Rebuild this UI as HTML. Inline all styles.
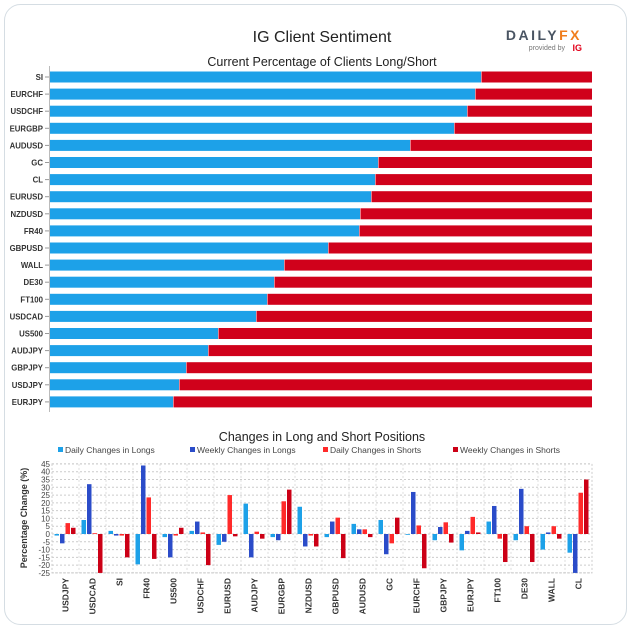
<!DOCTYPE html>
<html><head><meta charset="utf-8"><style>
html,body{margin:0;padding:0;background:#fff;}
svg{display:block;font-family:"Liberation Sans",sans-serif;}
</style></head><body>
<svg id="s" width="632" height="631" xmlns="http://www.w3.org/2000/svg">
<rect x="4.5" y="4.5" width="622" height="620" rx="16" fill="#fff" stroke="#d5dde3" stroke-width="1"/>
<text x="322" y="42" text-anchor="middle" font-size="16" fill="#222" font-weight="500">IG Client Sentiment</text>
<text x="582" y="40" text-anchor="end" font-size="14" font-weight="bold" letter-spacing="2.5"><tspan fill="#4a5563">DAILY</tspan><tspan fill="#f07d1c">FX</tspan></text>
<text x="565" y="50" text-anchor="end" font-size="7" fill="#777">provided by</text>
<text x="582" y="51" text-anchor="end" font-size="9" font-weight="bold" fill="#e2001a">IG</text>
<text x="322" y="66" text-anchor="middle" font-size="12.5" fill="#222">Current Percentage of Clients Long/Short</text>
<line x1="49.5" y1="66" x2="49.5" y2="412" stroke="#bbb"/>
<g id="topg"></g>
<text x="322" y="441" text-anchor="middle" font-size="12.5" fill="#222">Changes in Long and Short Positions</text>
<g font-size="8.5" fill="#444">
<rect x="58" y="447" width="5" height="5" fill="#1da1e8"/><text x="65" y="453">Daily Changes in Longs</text>
<rect x="190" y="447" width="5" height="5" fill="#2b4cc9"/><text x="197" y="453">Weekly Changes in Longs</text>
<rect x="323" y="447" width="5" height="5" fill="#ff2a2a"/><text x="330" y="453">Daily Changes in Shorts</text>
<rect x="453" y="447" width="5" height="5" fill="#cc0016"/><text x="460" y="453">Weekly Changes in Shorts</text>
</g>
<text transform="translate(27,518) rotate(-90)" text-anchor="middle" font-size="9" font-weight="bold" fill="#333">Percentage Change (%)</text>
<g id="botg"></g>
</svg>
<script>
(function(){
var ns="http://www.w3.org/2000/svg";
function el(p,t,a,txt){var e=document.createElementNS(ns,t);for(var k in a)e.setAttribute(k,a[k]);if(txt!=null)e.textContent=txt;p.appendChild(e);return e;}
var tg=document.getElementById('topg');
var rows=[["SI",481],["EURCHF",475],["USDCHF",467],["EURGBP",454],["AUDUSD",410],["GC",378],["CL",375],["EURUSD",371],["NZDUSD",360],["FR40",359],["GBPUSD",328],["WALL",284],["DE30",274],["FT100",267],["USDCAD",256],["US500",218],["AUDJPY",208],["GBPJPY",186],["USDJPY",179],["EURJPY",173]];
rows.forEach(function(r,i){var y=77+i*17.1;
el(tg,'rect',{x:50,y:y-5.5,width:r[1]-50,height:11,fill:'#1da1e8'});
el(tg,'rect',{x:r[1]+0.5,y:y-5.5,width:592-r[1]-0.5,height:11,fill:'#d0011b'});
el(tg,'line',{x1:45,y1:y,x2:49,y2:y,stroke:'#999'});
el(tg,'text',{x:43,y:y+3,'text-anchor':'end','font-size':8.5,'font-weight':'bold',fill:'#333',transform:'translate(43,0) scale(0.92,1) translate(-43,0)'},r[0]);});
var bg=document.getElementById('botg');
var x0=52,x1=592,z=534,k=1.557;
function Y(v){return z-v*k;}
var d=[["USDJPY",-1,-6,7,4],["USDCAD",9,32,0.5,-25],["SI",2,-1,-1,-15],["FR40",-19.5,44,23.5,-16],["US500",-2,-15,-1,4],["USDCHF",2,8,1,-20],["EURUSD",-7,-5,25,-1.5],["AUDJPY",19.5,-15,1.5,-3],["EURGBP",-2,-4,21,28.5],["NZDUSD",17.5,-8,-1,-8],["GBPUSD",-2,8,10.5,-15.5],["AUDUSD",6.5,3,3,-2],["GC",9,-13,-6,10.5],["EURCHF",0,27,5.5,-22],["GBPJPY",-4,4.5,7.5,-5.5],["EURJPY",-10.5,2,11,1],["FT100",8,18,-3,-18],["DE30",-4,29,5,-18],["WALL",-10,1,5,-3],["CL",-12,-25,26.5,35]];
var w=(x1-x0)/d.length;
for(var i=1;i<d.length;i++){el(bg,'line',{x1:x0+w*i,y1:Y(45),x2:x0+w*i,y2:Y(-25),stroke:'#ddd','stroke-dasharray':'2,2'});}
el(bg,'rect',{x:x0,y:Y(45),width:x1-x0,height:Y(-25)-Y(45),fill:'none',stroke:'#ccc','stroke-dasharray':'2,2'});
for(var v=-25;v<=45;v+=5){el(bg,'line',{x1:x0,y1:Y(v),x2:x1,y2:Y(v),stroke:'#ccc','stroke-dasharray':'2,2'});
el(bg,'text',{x:x0-2,y:Y(v)+3,'text-anchor':'end','font-size':8,fill:'#444'},String(v));}
var cols=['#1da1e8','#2b4cc9','#ff2a2a','#cc0016'];
d.forEach(function(r,i){var cx=x0+w*i+w/2;
for(var j=0;j<4;j++){var v=r[j+1];var bx=cx-11+j*5.5;
el(bg,'rect',{x:bx,y:Math.min(Y(v),z),width:4.5,height:Math.max(Math.abs(v*k),0.8),fill:cols[j]});}
el(bg,'text',{transform:'translate('+(cx+3)+',578) rotate(-90)','text-anchor':'end','font-size':8.5,'font-weight':'bold',fill:'#333'},r[0]);});
})();
</script>
</body></html>
